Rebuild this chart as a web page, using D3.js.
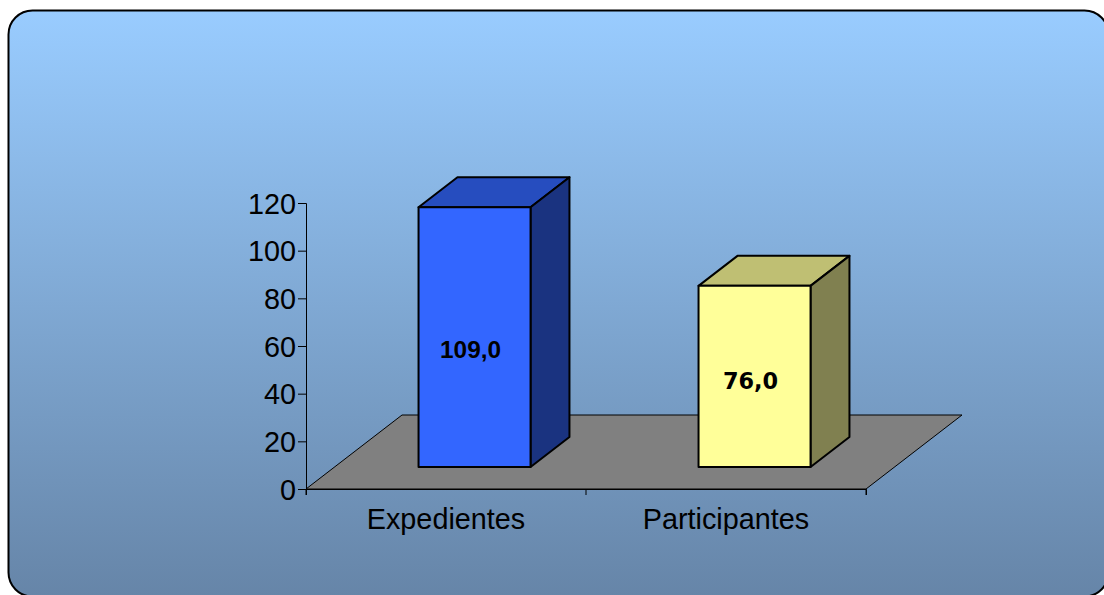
<!DOCTYPE html>
<html>
<head>
<meta charset="utf-8">
<script src="https://cdn.jsdelivr.net/npm/d3@7"></script>
<style>
html, body { margin: 0; padding: 0; background: #fff; overflow: hidden; }
svg { display: block; }
text { font-family: "Liberation Sans", Arial, sans-serif; fill: #000; }
</style>
</head>
<body>
<div id="canvas"></div>
<script>
const categories = ['Expedientes', 'Participantes'];
const values = [109, 76];
const valueLabels = ['109,0', '76,0'];
const labelFonts = ['"Liberation Sans"', '"DejaVu Sans"'];
const labelSizes = [24.4, 22.4];
const yTicks = [0, 20, 40, 60, 80, 100, 120];
const frontColors = ['#3366ff', '#ffff99'];
const topColors = ['#264dbf', '#bfbf73'];
const sideColors = ['#1a3380', '#808050'];

const width = 1104, height = 595;

const svg = d3.select('#canvas')
    .append('svg')
    .attr('width', width)
    .attr('height', height);

const grad = svg.append('defs')
    .append('linearGradient')
    .attr('id', 'bg')
    .attr('x1', 0).attr('y1', 0)
    .attr('x2', 0).attr('y2', 1);
grad.append('stop').attr('offset', '0%').attr('stop-color', '#99ccff');
grad.append('stop').attr('offset', '100%').attr('stop-color', '#6685a8');

svg.append('rect')
    .attr('x', 8.5).attr('y', 10.5)
    .attr('width', 1100).attr('height', 586)
    .attr('rx', 24).attr('ry', 24)
    .attr('fill', 'url(#bg)')
    .attr('stroke', '#000')
    .attr('stroke-width', 2);

const x = d3.scaleBand().domain(categories).range([306, 866]);
const y = d3.scaleLinear().domain([0, 120]).range([489, 203]);
// oblique depth of the 3d floor, 0 = front edge, 1 = back edge
const depthX = d3.scaleLinear().domain([0, 1]).range([0, 96]);
const depthY = d3.scaleLinear().domain([0, 1]).range([0, -74]);
const barFront = 22 / 74, barBack = 52 / 74;
const barShare = 0.4;

const line = d3.line();

svg.append('path')
    .attr('d', line([
        [x.range()[0], y(0)],
        [x.range()[0] + depthX(1), y(0) + depthY(1)],
        [x.range()[1] + depthX(1), y(0) + depthY(1)],
        [x.range()[1], y(0)]
    ]) + 'Z')
    .attr('fill', '#808080')
    .attr('stroke', '#000')
    .attr('stroke-width', 1);

const yAxis = d3.axisLeft(y).tickValues(yTicks).tickSize(8).tickPadding(2);
const gy = svg.append('g').attr('transform', 'translate(306,0)').call(yAxis);
gy.selectAll('text').attr('font-size', 28.8).attr('dy', '0.35em').style('font-family', '"Liberation Sans"');

const xAxis = d3.axisBottom(x).tickSize(6).tickPadding(14).tickFormat(d => d);
const gx = svg.append('g').attr('transform', 'translate(0,489)').call(xAxis);
gx.selectAll('.tick line').remove();
gx.selectAll('text').attr('font-size', 28.8).style('font-family', '"Liberation Sans"');
gx.selectAll('.sep')
    .data(x.range().concat([x(categories[1])]))
    .enter()
    .append('line')
    .attr('x1', d => d).attr('x2', d => d)
    .attr('y1', 0).attr('y2', 6)
    .attr('stroke', '#000');
svg.selectAll('.domain').attr('stroke', '#000');

const bars = svg.selectAll('.bar')
    .data(categories.map((c, i) => ({ c, v: values[i], i })))
    .enter()
    .append('g')
    .classed('bar', true);

const barW = x.bandwidth() * barShare;
const barLeft = d => x(d.c) + (x.bandwidth() - barW) / 2 + depthX(barFront);
const base = y(0) + depthY(barFront);
const barTop = d => base - (y(0) - y(d.v));
const backDx = depthX(barBack - barFront), backDy = depthY(barBack) - depthY(barFront);

bars.append('path')
    .attr('d', d => line([
        [barLeft(d), barTop(d)],
        [barLeft(d) + backDx, barTop(d) + backDy],
        [barLeft(d) + barW + backDx, barTop(d) + backDy],
        [barLeft(d) + barW, barTop(d)]
    ]) + 'Z')
    .attr('fill', d => topColors[d.i]);
bars.append('path')
    .attr('d', d => line([
        [barLeft(d) + barW, barTop(d)],
        [barLeft(d) + barW + backDx, barTop(d) + backDy],
        [barLeft(d) + barW + backDx, base + backDy],
        [barLeft(d) + barW, base]
    ]) + 'Z')
    .attr('fill', d => sideColors[d.i]);
bars.append('rect')
    .attr('x', barLeft)
    .attr('y', barTop)
    .attr('width', barW)
    .attr('height', d => base - barTop(d))
    .attr('fill', d => frontColors[d.i]);
bars.selectAll('path, rect')
    .attr('stroke', '#000')
    .attr('stroke-width', 2)
    .attr('stroke-linejoin', 'round');

bars.append('text')
    .attr('x', d => barLeft(d) + barW / 2 - 4)
    .attr('y', d => base - 7 - (base - barTop(d)) * 0.392)
    .attr('text-anchor', 'middle')
    .attr('font-weight', 'bold')
    .attr('font-size', d => labelSizes[d.i])
    .style('font-family', d => labelFonts[d.i])
    .text(d => valueLabels[d.i]);
</script>
</body>
</html>
